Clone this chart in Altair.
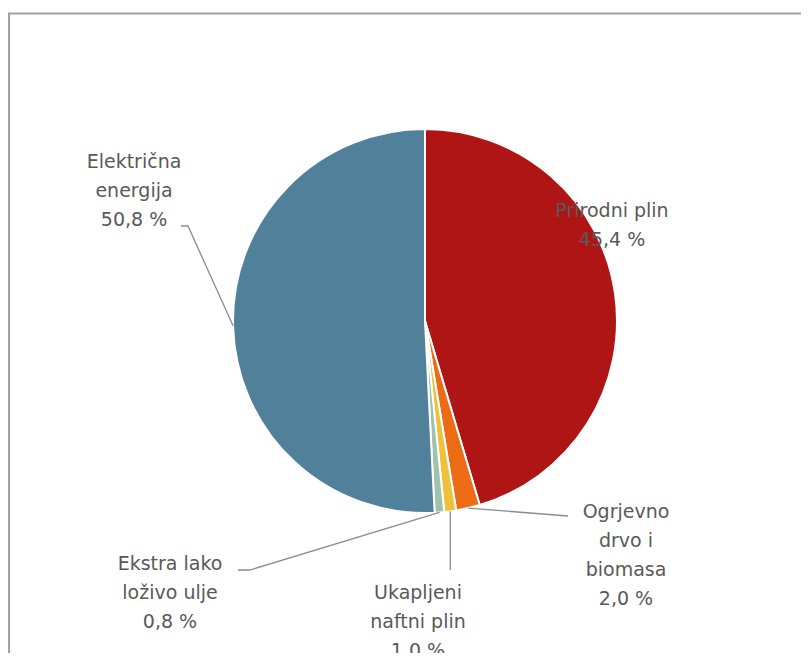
import altair as alt
import pandas as pd
import numpy as np

# ---- data ----
categories = ["Prirodni plin", "Ogrjevno drvo i biomasa", "Ukapljeni naftni plin",
              "Ekstra lako loživo ulje", "Električna energija"]
shares = [45.4, 2.0, 1.0, 0.8, 50.8]
colors = ["#B01515", "#EE6B16", "#EDC13C", "#9DC3AE", "#50809A"]
label_lines = [["Prirodni plin", "45,4 %"],
               ["Ogrjevno", "drvo i", "biomasa", "2,0 %"],
               ["Ukapljeni", "naftni plin", "1,0 %"],
               ["Ekstra lako", "loživo ulje", "0,8 %"],
               ["Električna", "energija", "50,8 %"]]

# ---- layout (svg pixels) ----
W, H = 793, 645
CX, CY, R = 417, 313, 192
label_pos = [(604, 203), (618, 504), (410, 585), (162, 556), (126, 154)]  # centre x, first-line y
LINE_H = 29
leader_pts = {1: [(560, 508)], 2: [None], 3: [(242, 562), (230, 562)], 4: [(180, 218), (173, 218)]}

# ---- tables ----
pie_df = pd.DataFrame({"cat": categories, "share": shares, "idx": range(len(categories))})

rows = []
for i, lines in enumerate(label_lines):
    cx, y0 = label_pos[i]
    for j, t in enumerate(lines):
        rows.append({"t": t, "x": cx, "y": y0 + j * LINE_H})
text_df = pd.DataFrame(rows)

cum = np.cumsum([0] + shares) / sum(shares)
lead_rows = []
for i, pts in leader_pts.items():
    mid = (cum[i] + cum[i + 1]) / 2 * 2 * np.pi
    ex, ey = CX + R * np.sin(mid), CY - R * np.cos(mid)
    lead_rows.append({"k": i, "o": 0, "x": ex, "y": ey})
    for n, p in enumerate(pts):
        if p is None:
            p = (ex, 562)
        lead_rows.append({"k": i, "o": n + 1, "x": p[0], "y": p[1]})
lead_df = pd.DataFrame(lead_rows)

frame = alt.Chart(pd.DataFrame({"a": [0]})).mark_rect(
    fillOpacity=0, stroke="#a3a3a3", strokeWidth=2
).encode(x=alt.value(1), x2=alt.value(W + 60), y=alt.value(5.5), y2=alt.value(H + 60))

pie = alt.Chart(pie_df).mark_arc(outerRadius=R, stroke="white", strokeWidth=2).encode(
    theta=alt.Theta("share:Q", stack=True),
    order=alt.Order("idx:Q"),
    color=alt.Color("cat:N", scale=alt.Scale(domain=categories, range=colors), legend=None),
    x=alt.value(CX), y=alt.value(CY),
)

leaders = alt.Chart(lead_df).mark_line(color="#8c8c8c", strokeWidth=1.3).encode(
    x=alt.X("x:Q", scale=None, axis=None),
    y=alt.Y("y:Q", scale=None, axis=None),
    detail="k:N", order="o:Q",
)

labels = alt.Chart(text_df).mark_text(
    font="DejaVu Sans", fontSize=19, color="#595959", align="center", baseline="middle"
).encode(
    x=alt.X("x:Q", scale=None, axis=None),
    y=alt.Y("y:Q", scale=None, axis=None),
    text="t:N",
)

chart = alt.layer(frame, pie, leaders, labels).properties(
    width=W, height=H, padding=0, autosize=alt.AutoSizeParams(type="none"), background="white"
).configure_view(stroke=None)

chart.save("out.html", embed_options={"renderer": "svg", "actions": False})
